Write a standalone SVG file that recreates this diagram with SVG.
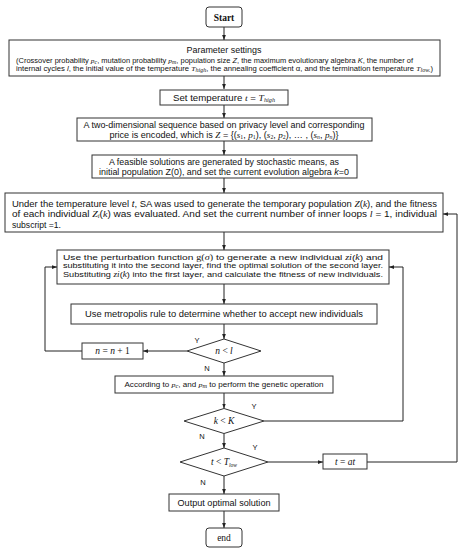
<svg xmlns="http://www.w3.org/2000/svg" width="462" height="550" viewBox="0 0 462 550">
<defs>
<marker id="ah" viewBox="0 0 8 6" refX="8" refY="3" markerWidth="5" markerHeight="4" markerUnits="userSpaceOnUse" orient="auto">
<path d="M0,0 L8,3 L0,6 Z" fill="#222"/>
</marker>
<style>
.box{fill:#fff;stroke:#333;stroke-width:1}
.t{font-family:"Liberation Sans",Arial,sans-serif;fill:#111;font-size:8.6px}
.s{font-size:7px}
.p{font-size:7.2px}
.m{font-family:"Liberation Serif","Times New Roman",serif;font-style:italic}
.u{font-family:"Liberation Serif","Times New Roman",serif;font-style:normal}
.sub{font-size:5.5px}
.ser{font-family:"Liberation Serif","Times New Roman",serif;fill:#111;font-size:9.5px}
.c line,.c polyline{stroke:#222;stroke-width:1;fill:none;marker-end:url(#ah)}
.lbl{font-family:"Liberation Sans",Arial,sans-serif;fill:#111;font-size:7.5px}
</style>
</defs>
<rect width="462" height="550" fill="#fff"/>

<g class="c" id="connectors">
<line x1="224" y1="27" x2="224" y2="40"/>
<line x1="224" y1="76" x2="224" y2="89"/>
<line x1="224" y1="105" x2="224" y2="118"/>
<line x1="224" y1="141" x2="224" y2="155"/>
<line x1="224" y1="178" x2="224" y2="193"/>
<line x1="224" y1="232" x2="224" y2="250"/>
<line x1="224" y1="284" x2="224" y2="304"/>
<line x1="224" y1="324" x2="224" y2="339"/>
<line x1="224" y1="363" x2="224" y2="376"/>
<line x1="224" y1="393" x2="224" y2="408.5"/>
<line x1="224" y1="433.5" x2="224" y2="448"/>
<line x1="224" y1="476" x2="224" y2="494"/>
<line x1="224" y1="511" x2="224" y2="528"/>
<line x1="187" y1="351" x2="143" y2="351"/>
<polyline points="82,351 45,351 45,267 57,267"/>
<polyline points="264,421 403,421 403,267 389,267"/>
<line x1="268" y1="462" x2="323" y2="462"/>
<polyline points="367,462 457,462 457,214 443,214"/>
</g>

<g id="start"><rect class="box" x="206" y="7" width="36" height="20" rx="3"/><text class="ser" x="224" y="20.5" text-anchor="middle" font-weight="bold">Start</text></g>

<g id="params"><rect class="box" x="9" y="40" width="431" height="36"/>
<text class="t" x="224" y="53" text-anchor="middle" textLength="75" lengthAdjust="spacingAndGlyphs">Parameter settings</text>
<text class="t s" x="16" y="62.5" textLength="397" lengthAdjust="spacingAndGlyphs">(Crossover probability <tspan class="m">p</tspan><tspan class="m sub" dy="1.2">c</tspan><tspan dy="-1.2">, mutation probability </tspan><tspan class="m">p</tspan><tspan class="m sub" dy="1.2">m</tspan><tspan dy="-1.2">, population size </tspan><tspan font-style="italic">Z</tspan>, the maximum evolutionary algebra <tspan font-style="italic">K</tspan>, the number of</text>
<text class="t s" x="16" y="70.5" textLength="417" lengthAdjust="spacingAndGlyphs">internal cycles <tspan font-style="italic">l</tspan>, the initial value of the temperature <tspan class="m">T</tspan><tspan class="m sub" dy="1.2">high</tspan><tspan dy="-1.2">, the annealing coefficient α, and the termination temperature </tspan><tspan class="m">T</tspan><tspan class="m sub" dy="1.2">low.</tspan><tspan dy="-1.2">)</tspan></text>
</g>

<g id="settemp"><rect class="box" x="160" y="90" width="128" height="15"/>
<text class="t" x="224" y="100.5" text-anchor="middle" textLength="102" lengthAdjust="spacingAndGlyphs">Set temperature <tspan class="m">t</tspan> = <tspan class="m">T</tspan><tspan class="m sub" dy="1.5">high</tspan></text></g>

<g id="encode"><rect class="box" x="77" y="118" width="295" height="23"/>
<text class="t" x="224" y="127.5" text-anchor="middle" textLength="281" lengthAdjust="spacingAndGlyphs">A two-dimensional sequence based on privacy level and corresponding</text>
<text class="t" x="224" y="138" text-anchor="middle" textLength="229" lengthAdjust="spacingAndGlyphs">price is encoded, which is <tspan class="m">Z</tspan> = {(<tspan class="m">s</tspan><tspan class="u sub" dy="1.3">1</tspan><tspan dy="-1.3">, </tspan><tspan class="m">p</tspan><tspan class="u sub" dy="1.3">1</tspan><tspan dy="-1.3">), (</tspan><tspan class="m">s</tspan><tspan class="u sub" dy="1.3">2</tspan><tspan dy="-1.3">, </tspan><tspan class="m">p</tspan><tspan class="u sub" dy="1.3">2</tspan><tspan dy="-1.3">), … , (</tspan><tspan class="m">s</tspan><tspan class="m sub" dy="1.3">n</tspan><tspan dy="-1.3">, </tspan><tspan class="m">p</tspan><tspan class="m sub" dy="1.3">n</tspan><tspan dy="-1.3">)}</tspan></text></g>

<g id="feasible"><rect class="box" x="92" y="155" width="265" height="23"/>
<text class="t" x="224" y="164.5" text-anchor="middle" textLength="230" lengthAdjust="spacingAndGlyphs">A feasible solutions are generated by stochastic means, as</text>
<text class="t" x="224" y="175" text-anchor="middle" textLength="250" lengthAdjust="spacingAndGlyphs">initial population Z(0), and set the current evolution algebra <tspan font-style="italic">k</tspan>=0</text></g>

<g id="sa"><rect class="box" x="5" y="193" width="438" height="39"/>
<text class="t" x="12" y="206.5" textLength="425" lengthAdjust="spacingAndGlyphs">Under the temperature level <tspan font-style="italic">t</tspan>, SA was used to generate the temporary population <tspan class="m">Z</tspan>(<tspan class="m">k</tspan>), and the fitness</text>
<text class="t" x="12" y="217" textLength="425" lengthAdjust="spacingAndGlyphs">of each individual <tspan class="m">Z</tspan><tspan class="m sub" dy="1.3">i</tspan><tspan dy="-1.3">(</tspan><tspan class="m">k</tspan>) was evaluated. And set the current number of inner loops <tspan class="m">l</tspan> = 1, individual</text>
<text class="t" x="12" y="227.5">subscript =1.</text></g>

<g id="perturb"><rect class="box" x="57" y="250" width="332" height="34"/>
<text class="t p" x="63" y="260" textLength="320" lengthAdjust="spacingAndGlyphs">Use the perturbation function <tspan class="u">g(</tspan><tspan class="m">σ</tspan><tspan class="u">)</tspan> to generate a new individual <tspan class="m">zi</tspan>(<tspan class="m">k</tspan>) and</text>
<text class="t p" x="63" y="268.3" textLength="320" lengthAdjust="spacingAndGlyphs">substituting it into the second layer, find the optimal solution of the second layer.</text>
<text class="t p" x="63" y="276.6" textLength="320" lengthAdjust="spacingAndGlyphs">Substituting <tspan class="m">zi</tspan>(<tspan class="m">k</tspan>) into the first layer, and calculate the fitness of new individuals.</text></g>

<g id="metropolis"><rect class="box" x="71" y="304" width="306" height="20"/>
<text class="t" x="224" y="317" text-anchor="middle" textLength="278" lengthAdjust="spacingAndGlyphs">Use metropolis rule to determine whether to accept new individuals</text></g>

<g id="dec-nl"><polygon class="box" points="224,339 261,351 224,363 187,351"/>
<text class="ser" x="224" y="354" text-anchor="middle" font-size="8px"><tspan class="m">n</tspan> &lt; <tspan class="m">l</tspan></text></g>

<g id="incn"><rect class="box" x="82" y="343" width="61" height="16"/>
<text class="ser" x="112.5" y="354" text-anchor="middle" font-size="8px"><tspan class="m">n</tspan> = <tspan class="m">n</tspan> + 1</text></g>

<g id="genetic"><rect class="box" x="115" y="376" width="218" height="17"/>
<text class="t s" x="224" y="387" text-anchor="middle" textLength="199" lengthAdjust="spacingAndGlyphs">According to <tspan class="m">p</tspan><tspan class="m sub" dy="1.2">c</tspan><tspan dy="-1.2">, and </tspan><tspan class="m">p</tspan><tspan class="m sub" dy="1.2">m</tspan><tspan dy="-1.2"> to perform the genetic  operation</tspan></text></g>

<g id="dec-kK"><polygon class="box" points="224,408.5 264,421 224,433.5 184,421"/>
<text class="ser" x="224" y="424" text-anchor="middle" font-size="8px"><tspan class="m">k</tspan> &lt; <tspan class="m">K</tspan></text></g>

<g id="dec-tT"><polygon class="box" points="224,448 268,462 224,476 180,462"/>
<text class="ser" x="224" y="465" text-anchor="middle" font-size="8px"><tspan class="m">t</tspan> &lt; <tspan class="m">T</tspan><tspan class="m" font-size="5.5px" dy="1.5">low</tspan></text></g>

<g id="tat"><rect class="box" x="323" y="454" width="44" height="15"/>
<text class="ser" x="345" y="464.5" text-anchor="middle" font-size="8px"><tspan class="m">t</tspan> = <tspan class="m">at</tspan></text></g>

<g id="output"><rect class="box" x="169" y="494" width="110" height="17"/>
<text class="t" x="224" y="505.5" text-anchor="middle" textLength="93" lengthAdjust="spacingAndGlyphs">Output optimal solution</text></g>

<g id="end"><rect class="box" x="206" y="528" width="36" height="19" rx="3"/>
<text class="ser" x="224" y="541" text-anchor="middle">end</text></g>

<g id="labels">
<text class="lbl" x="197" y="343" text-anchor="middle">Y</text>
<text class="lbl" x="207" y="371" text-anchor="middle">N</text>
<text class="lbl" x="254" y="409" text-anchor="middle">Y</text>
<text class="lbl" x="202" y="439" text-anchor="middle">N</text>
<text class="lbl" x="255" y="450" text-anchor="middle">Y</text>
<text class="lbl" x="203" y="485" text-anchor="middle">N</text>
</g>
</svg>
